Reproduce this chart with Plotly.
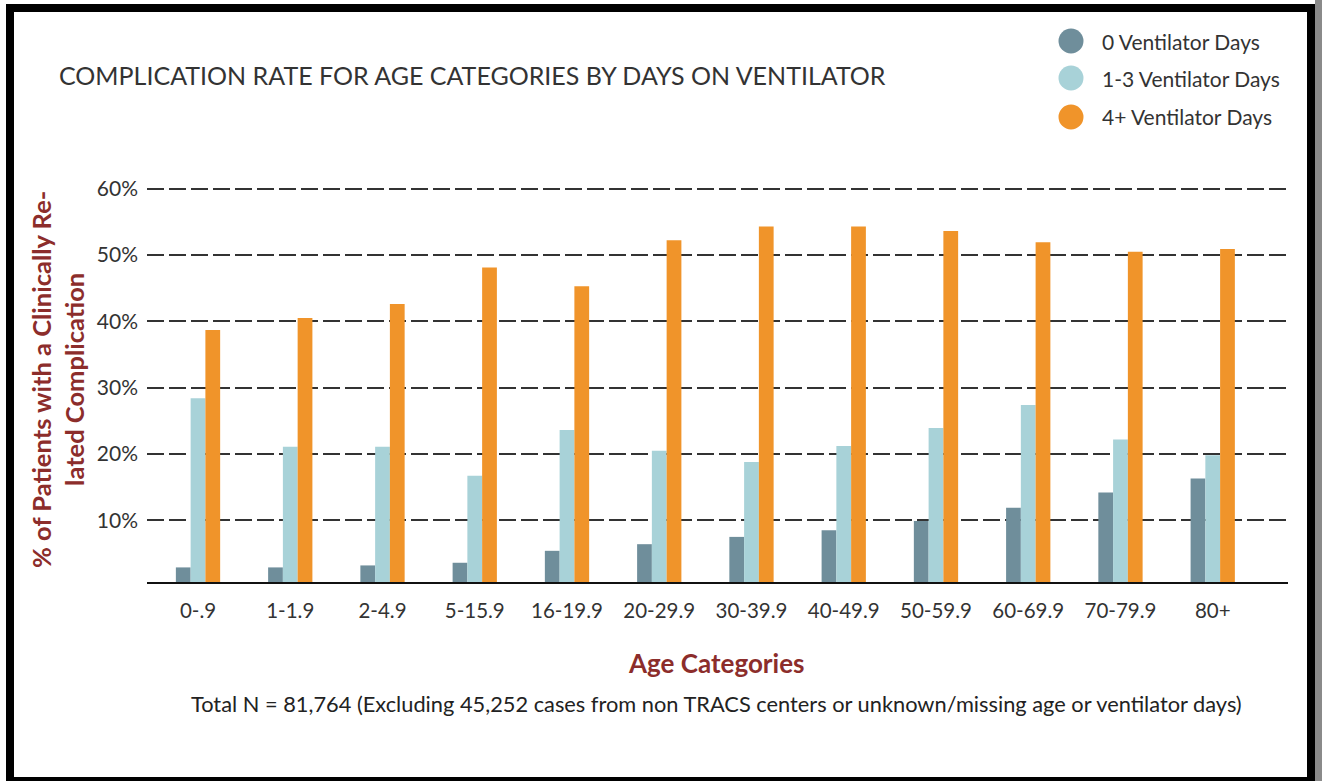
import plotly.graph_objects as go

categories = ["0-.9", "1-1.9", "2-4.9", "5-15.9", "16-19.9", "20-29.9",
              "30-39.9", "40-49.9", "50-59.9", "60-69.9", "70-79.9", "80+"]
series_names = ["0 Ventilator Days", "1-3 Ventilator Days", "4+ Ventilator Days"]
vent_0 = [2.9, 2.9, 3.2, 3.6, 5.4, 6.4, 7.5, 8.5, 9.9, 11.9, 14.2, 16.3]
vent_1_3 = [28.4, 21.1, 21.1, 16.7, 23.6, 20.5, 18.8, 21.2, 23.9, 27.4, 22.2, 19.8]
vent_4p = [38.7, 40.5, 42.6, 48.1, 45.3, 52.2, 54.3, 54.3, 53.6, 51.9, 50.5, 50.9]
y_ticks = [10, 20, 30, 40, 50, 60]
y_tick_labels = ["10%", "20%", "30%", "40%", "50%", "60%"]

colors = ["#6F8E9B", "#A8D2D8", "#F0942A"]
dark_red = "#8C2D2B"
text_gray = "#333333"
FONT = "Lato"

W, H = 1322, 781
L, R, T, B = 147, 34, 182, 199
pw, ph = W - L - R, H - T - B


def px(x):
    return (x - L) / pw


def py(y):
    return (H - B - y) / ph


fig = go.Figure()
for name, vals, col in zip(series_names, [vent_0, vent_1_3, vent_4p], colors):
    fig.add_trace(go.Bar(x=categories, y=vals, name=name, marker_color=col,
                         marker_line_width=0, showlegend=False))

fig.update_layout(
    width=W, height=H,
    margin=dict(l=L, r=R, t=T, b=B, pad=0),
    paper_bgcolor="white", plot_bgcolor="white",
    barmode="group", bargap=0.52, bargroupgap=0,
    font=dict(family=FONT, color=text_gray),
    xaxis=dict(type="category", range=[-0.553, 11.816], showgrid=False,
               showline=True, linecolor="#111111", linewidth=1.5,
               ticks="", tickfont=dict(size=20.5, color=text_gray, family=FONT),
               ticklabelstandoff=10),
    yaxis=dict(range=[0.7, 61], tickvals=y_ticks, ticktext=y_tick_labels,
               showgrid=True, gridcolor="#333333", gridwidth=2,
               griddash="17px,5px", zeroline=False, showline=False,
               ticks="", tickfont=dict(size=21, color=text_gray, family=FONT),
               ticklabelstandoff=8),
)

annotations = [
    dict(text="COMPLICATION RATE FOR AGE CATEGORIES BY DAYS ON VENTILATOR",
         x=px(57), y=py(75), xanchor="left", yanchor="middle",
         font=dict(size=25, color=text_gray, family=FONT)),
    dict(text="<b>% of Patients with a Clinically Re-<br>lated Complication</b>",
         x=px(57), y=py(380), xanchor="center", yanchor="middle", textangle=-90,
         font=dict(size=25.5, color=dark_red, family=FONT)),
    dict(text="<b>Age Categories</b>", x=px(716), y=py(663),
         xanchor="center", yanchor="middle",
         font=dict(size=26, color=dark_red, family=FONT)),
    dict(text="Total N = 81,764 (Excluding 45,252 cases from non TRACS centers or unknown/missing age or ventilator days)",
         x=px(716), y=py(703), xanchor="center", yanchor="middle",
         font=dict(size=21.8, color="#222222", family=FONT)),
]
shapes = []
leg_y = [41, 78, 117]
for name, col, yy in zip(series_names, colors, leg_y):
    shapes.append(dict(type="circle", xref="paper", yref="paper",
                       x0=px(1058.5), x1=px(1083.5), y0=py(yy + 12.5), y1=py(yy - 12.5),
                       fillcolor=col, line=dict(width=0)))
    annotations.append(dict(text=name, x=px(1100), y=py(yy), xanchor="left",
                            yanchor="middle",
                            font=dict(size=21, color=text_gray, family=FONT)))

# frame
shapes.append(dict(type="rect", xref="paper", yref="paper",
                   x0=px(10), x1=px(1311), y0=py(8), y1=py(781),
                   line=dict(color="black", width=8), fillcolor="rgba(0,0,0,0)"))
shapes.append(dict(type="rect", xref="paper", yref="paper",
                   x0=px(1315), x1=px(1322), y0=py(0), y1=py(781),
                   line=dict(width=0), fillcolor="#8a8a8a"))

for a in annotations:
    a.update(xref="paper", yref="paper", showarrow=False)
fig.update_layout(annotations=annotations, shapes=shapes)

fig.write_html("out.html", config={"displayModeBar": False},
               post_script="document.body.style.margin='0';document.body.style.padding='0';")
